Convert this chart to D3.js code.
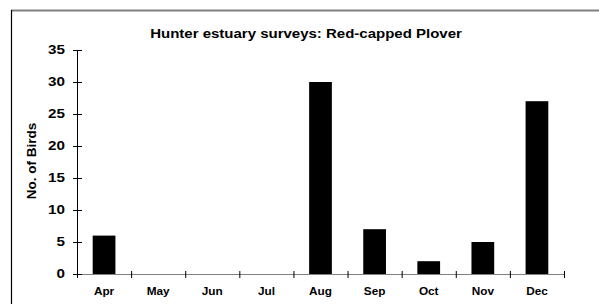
<!DOCTYPE html>
<html>
<head>
<meta charset="utf-8">
<script src="https://cdn.jsdelivr.net/npm/d3@7"></script>
<style>
  body { margin: 0; background: #fff; }
  text { font-family: Arial, "Liberation Sans", sans-serif; font-weight: bold; fill: #000; }
</style>
</head>
<body>
<svg width="599" height="304"></svg>
<script>
// datos del grafico
const months = ["Apr", "May", "Jun", "Jul", "Aug", "Sep", "Oct", "Nov", "Dec"];
const birds = [6, 0, 0, 0, 30, 7, 2, 5, 27];
const yTicks = [0, 5, 10, 15, 20, 25, 30, 35];

const svg = d3.select("svg");
const margin = {top: 50, left: 77, right: 35, bottom: 30};
const width = 599 - margin.left - margin.right,   // 487
      height = 304 - margin.top - margin.bottom;  // 224

// marco exterior
svg.append("line").attr("x1", 11).attr("y1", 10.5).attr("x2", 599).attr("y2", 10.5)
  .attr("stroke", "#808080").attr("stroke-width", 2);
svg.append("line").attr("x1", 11.5).attr("y1", 10).attr("x2", 11.5).attr("y2", 304)
  .attr("stroke", "#000").attr("stroke-width", 1.2);

const g = svg.append("g").attr("transform", `translate(${margin.left},${margin.top})`);

// escalas
const x = d3.scaleBand().domain(months).range([0, width]).paddingInner(0.58).paddingOuter(0.29);
const xb = d3.scaleBand().domain(months).range([0, width]);
const y = d3.scaleLinear().domain([0, 35]).range([height, 0]);

// barras
g.selectAll(".bar")
  .data(months.map((m, i) => ({m, v: birds[i]})).filter(d => d.v > 0))
  .enter().append("rect")
  .attr("x", d => x(d.m))
  .attr("y", d => y(d.v))
  .attr("width", x.bandwidth())
  .attr("height", d => y(0) - y(d.v))
  .attr("fill", "#000");

// eje x
g.append("line").attr("x1", 0).attr("x2", width).attr("y1", height + 0.5).attr("y2", height + 0.5)
  .attr("stroke", "#808080").attr("stroke-width", 1.2);
const xTickPos = months.map(m => xb(m)).concat([width]);
g.selectAll(".xtick").data(xTickPos).enter().append("line")
  .attr("x1", d => d + 0.5).attr("x2", d => d + 0.5)
  .attr("y1", height - 3).attr("y2", height + 4)
  .attr("stroke", "#000").attr("stroke-width", 1);
g.selectAll(".xlab").data(months).enter().append("text")
  .attr("transform", d => `translate(${xb(d) + xb.bandwidth() / 2},${height + 21}) scale(1.18,1)`)
  .attr("text-anchor", "middle")
  .style("font-size", "10px")
  .text(d => d);

// eje y
g.append("line").attr("x1", 0.5).attr("x2", 0.5).attr("y1", y(35)).attr("y2", height)
  .attr("stroke", "#000").attr("stroke-width", 1);
g.selectAll(".ytick").data(yTicks).enter().append("line")
  .attr("x1", -4).attr("x2", 5)
  .attr("y1", d => y(d) + 0.5).attr("y2", d => y(d) + 0.5)
  .attr("stroke", "#000").attr("stroke-width", 1);
g.selectAll(".ylab").data(yTicks).enter().append("text")
  .attr("transform", d => `translate(-12,${y(d)}) scale(1.27,1)`)
  .attr("dy", "0.36em")
  .attr("text-anchor", "end")
  .style("font-size", "12px")
  .text(d => d);

// titulo
svg.append("text")
  .attr("transform", "translate(306,38) scale(1.25,1)")
  .attr("text-anchor", "middle")
  .style("font-size", "12px")
  .text("Hunter estuary surveys: Red-capped Plover");

// etiqueta eje y
svg.append("text")
  .attr("transform", "translate(36,161) rotate(-90)")
  .attr("text-anchor", "middle")
  .style("font-size", "13.5px")
  .text("No. of Birds");
</script>
</body>
</html>
